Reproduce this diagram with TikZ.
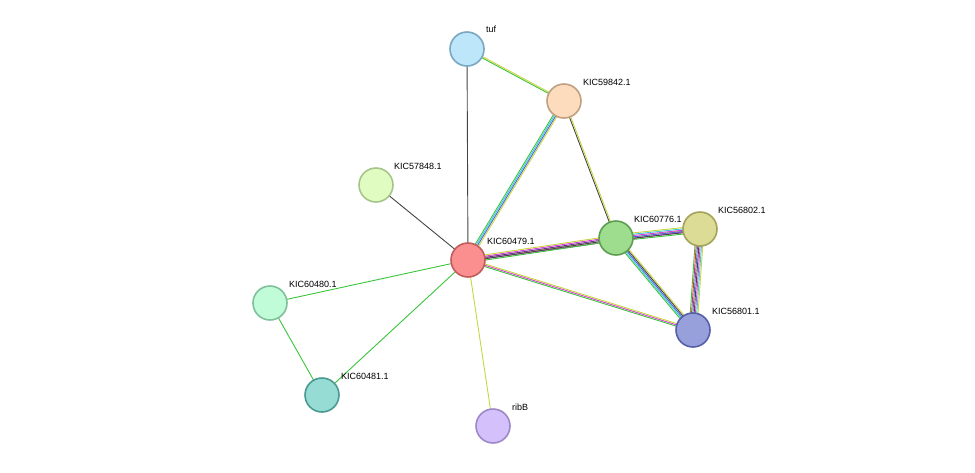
\documentclass[tikz,border=0pt]{standalone}
\usepackage{fontspec}
\setmainfont{Liberation Sans}
\usetikzlibrary{calc}
\definecolor{eg}{HTML}{3BC43B}\definecolor{ey}{HTML}{C8D63F}\definecolor{ek}{HTML}{444444}
\definecolor{ec}{HTML}{3FC8D8}\definecolor{eb}{HTML}{4F5FE0}\definecolor{em}{HTML}{D43FD4}
\definecolor{er}{HTML}{E03030}\definecolor{ep}{HTML}{6A2AA0}
\newcommand\myedge[3]{%
 \foreach \c [count=\i] in {#3} {%
  \pgfmathsetmacro\o{(\i-(\n+1)/2)*1.3}%
  \draw[line width=0.9pt,color=\c] ($(#1)!\o pt!90:(#2)$) -- ($(#2)!\o pt!-90:(#1)$);}}
\tikzset{prot/.style={circle,minimum size=34pt,line width=1.6pt,inner sep=0pt},
 lab/.style={font=\fontsize{9}{10}\selectfont,anchor=south west,inner sep=1pt}}
\begin{document}
\begin{tikzpicture}[x=1pt,y=-1pt]
\useasboundingbox (0,0) rectangle (975,472);
\coordinate (tuf) at (467,49);
\coordinate (k598) at (564,101);
\coordinate (k578) at (376,185);
\coordinate (k479) at (468,260);
\coordinate (k776) at (616,238);
\coordinate (k802) at (700,229);
\coordinate (k801) at (693,330);
\coordinate (k480) at (270,303);
\coordinate (k481) at (322,395);
\coordinate (rib) at (493,426);
\def\n{2}\myedge{tuf}{k598}{eg,ey}
\def\n{1}\myedge{tuf}{k479}{ek}
\def\n{4}\myedge{k598}{k479}{eg,ec,eb,ey}
\def\n{2}\myedge{k598}{k776}{ek,ey}
\def\n{1}\myedge{k578}{k479}{ek}
\def\n{2}\myedge{k479}{k802}{em,ey}
\def\n{5}\myedge{k479}{k776}{eg,ek,ep,em,ey}
\def\n{3}\myedge{k479}{k801}{eg,em,ey}
\def\n{1}\myedge{k479}{k480}{eg}
\def\n{1}\myedge{k479}{k481}{eg}
\def\n{1}\myedge{k480}{k481}{eg}
\def\n{1}\myedge{k479}{rib}{ey}
\def\n{6}\myedge{k776}{k802}{eg,ek,eb,em,ec,ey}
\def\n{5}\myedge{k776}{k801}{eg,ec,eb,ek,ey}
\def\n{7}\myedge{k802}{k801}{eg,er,eb,ek,em,ec,ey}
\node[prot,fill={rgb,255:red,189;green,230;blue,250},draw={rgb,255:red,122;green,167;blue,194}] (ntuf) at (tuf) {};
\node[prot,fill={rgb,255:red,253;green,220;blue,189},draw={rgb,255:red,192;green,160;blue,128}] (n598) at (k598) {};
\node[prot,fill={rgb,255:red,224;green,252;blue,192},draw={rgb,255:red,167;green,197;blue,138}] (n578) at (k578) {};
\node[prot,fill={rgb,255:red,251;green,143;blue,143},draw={rgb,255:red,193;green,92;blue,92}] (n479) at (k479) {};
\node[prot,fill={rgb,255:red,158;green,220;blue,142},draw={rgb,255:red,94;green,158;blue,82}] (n776) at (k776) {};
\node[prot,fill={rgb,255:red,220;green,220;blue,150},draw={rgb,255:red,163;green,163;blue,90}] (n802) at (k802) {};
\node[prot,fill={rgb,255:red,152;green,160;blue,220},draw={rgb,255:red,85;green,96;blue,168}] (n801) at (k801) {};
\node[prot,fill={rgb,255:red,192;green,252;blue,216},draw={rgb,255:red,128;green,192;blue,154}] (n480) at (k480) {};
\node[prot,fill={rgb,255:red,150;green,220;blue,212},draw={rgb,255:red,75;green,154;blue,146}] (n481) at (k481) {};
\node[prot,fill={rgb,255:red,212;green,192;blue,250},draw={rgb,255:red,157;green,136;blue,200}] (nrib) at (rib) {};
\node[lab] at (485,34) {tuf};
\node[lab] at (582,87) {KIC59842.1};
\node[lab] at (393,171) {KIC57848.1};
\node[lab] at (486,246) {KIC60479.1};
\node[lab] at (633,224) {KIC60776.1};
\node[lab] at (717,215) {KIC56802.1};
\node[lab] at (711,316) {KIC56801.1};
\node[lab] at (288,289) {KIC60480.1};
\node[lab] at (340,381) {KIC60481.1};
\node[lab] at (511,412) {ribB};
\end{tikzpicture}
\end{document}
